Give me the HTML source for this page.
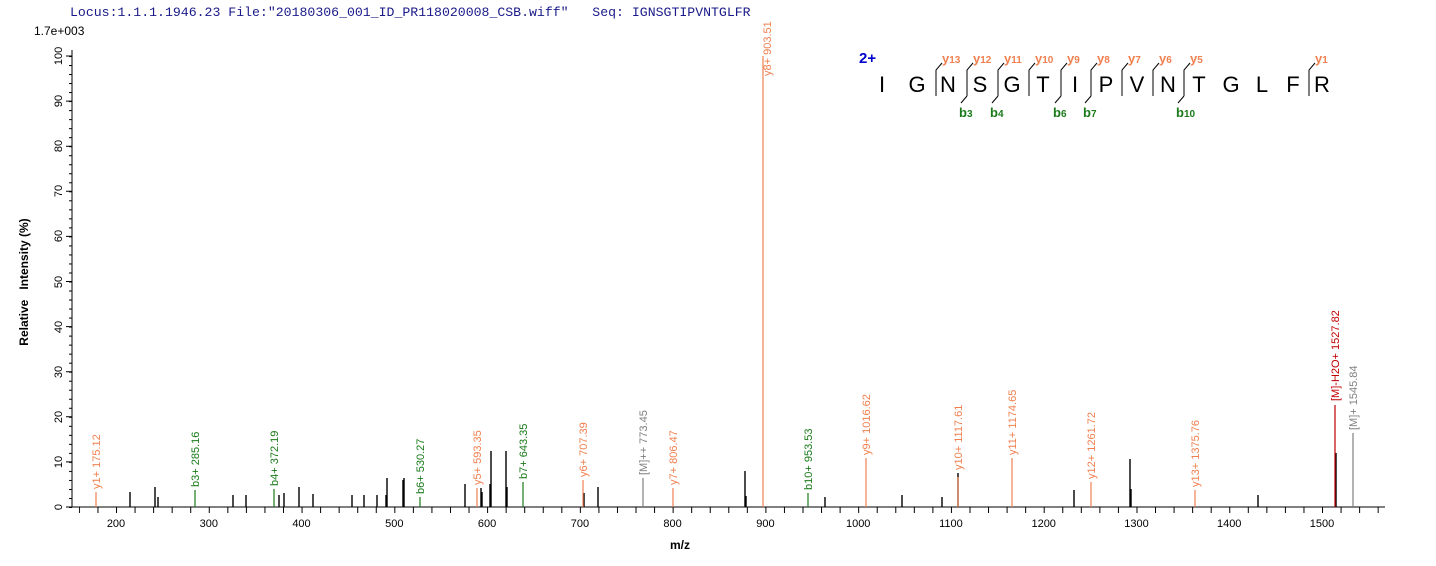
<!DOCTYPE html>
<html><head><meta charset="utf-8"><style>
body{margin:0;background:#fff;}
svg{display:block;font-family:"Liberation Sans",Arial,sans-serif;}
.o{stroke:#F08050;stroke-width:1.2}
.g{stroke:#1A7A1A;stroke-width:1.2}
.k{stroke:#000;stroke-width:1.4}
.gr{stroke:#808080;stroke-width:1.2}
.r{stroke:#C00000;stroke-width:1.2}
.lo{fill:#F08050;font-size:11px}
.lg{fill:#1A7A1A;font-size:11px}
.lgr{fill:#808080;font-size:11px}
.lr{fill:#C00000;font-size:11px}
</style></head><body>
<svg width="1436" height="566" viewBox="0 0 1436 566" xmlns="http://www.w3.org/2000/svg">
<defs>
<pattern id="xt" x="78.9" y="507" width="18.554" height="6" patternUnits="userSpaceOnUse"><line x1="0.5" y1="0" x2="0.5" y2="6" stroke="#000"/></pattern>
<pattern id="yt" x="66" y="56" width="6" height="9.02" patternUnits="userSpaceOnUse"><line x1="3" y1="0.5" x2="6" y2="0.5" stroke="#000"/></pattern>
</defs>
<text x="70" y="16" font-family="'Liberation Mono',monospace" font-size="13.2" fill="#1a1a8a" xml:space="preserve">Locus:1.1.1.1946.23 File:"20180306_001_ID_PR118020008_CSB.wiff"   Seq: IGNSGTIPVNTGLFR</text>
<text x="34" y="35" font-size="12">1.7e+003</text>
<line x1="72" y1="50" x2="72" y2="507" stroke="#000"/>
<line x1="72" y1="507" x2="1385" y2="507" stroke="#000"/>
<rect x="78.9" y="507" width="1300" height="6" fill="url(#xt)"/>
<rect x="66" y="56" width="6" height="452" fill="url(#yt)"/>
<path d="M66 507h6M66 461.9h6M66 416.8h6M66 371.7h6M66 326.6h6M66 281.5h6M66 236.4h6M66 191.3h6M66 146.2h6M66 101.1h6M66 56h6" stroke="#000"/>
<g font-size="11" text-anchor="middle">
<text transform="translate(62,507) rotate(-90)">0</text>
<text transform="translate(62,462) rotate(-90)">10</text>
<text transform="translate(62,417) rotate(-90)">20</text>
<text transform="translate(62,372) rotate(-90)">30</text>
<text transform="translate(62,327) rotate(-90)">40</text>
<text transform="translate(62,282) rotate(-90)">50</text>
<text transform="translate(62,236) rotate(-90)">60</text>
<text transform="translate(62,191) rotate(-90)">70</text>
<text transform="translate(62,146) rotate(-90)">80</text>
<text transform="translate(62,101) rotate(-90)">90</text>
<text transform="translate(62,56) rotate(-90)">100</text>
<text x="116" y="527">200</text><text x="208.8" y="527">300</text><text x="301.5" y="527">400</text><text x="394.3" y="527">500</text><text x="487.1" y="527">600</text><text x="579.9" y="527">700</text><text x="672.6" y="527">800</text><text x="765.4" y="527">900</text><text x="858.2" y="527">1000</text><text x="950.9" y="527">1100</text><text x="1043.7" y="527">1200</text><text x="1136.5" y="527">1300</text><text x="1229.2" y="527">1400</text><text x="1322" y="527">1500</text>
</g>
<text x="680" y="549" font-size="12" font-weight="bold" text-anchor="middle">m/z</text>
<text transform="translate(28,282) rotate(-90)" font-size="12" font-weight="bold" text-anchor="middle">Relative &#160; Intensity (%)</text>
<path class="k" d="M130 507V492M155 507V487M158 507V497M233 507V495M246 507V495M279 507V495M284 507V493M299 507V487M313 507V494M352 507V495M364 507V495M377 507V495M386 507V495M387 507V478M403 507V480M404 507V478M465 507V484M481 507V488M482 507V492M490 507V484M491 507V451M506 507V451M507 507V487M584 507V493M598 507V487M745 507V471M746 507V496M825 507V497M902 507V495M942 507V497M958 507V473M1074 507V490M1130 507V459M1131 507V489M1258 507V495M1336 507V453"/>
<path class="o" d="M96 507V492M477 507V488M583 507V480M673 507V488M763 507V56M866 507V458M958 507V477M1012 507V458M1091 507V482M1195 507V490"/>
<path class="g" d="M195 507V490M274 507V489M420 507V497M523 507V482M808 507V493"/>
<path class="gr" d="M643 507V478M1353 507V433"/>
<path class="r" d="M1335 507V405"/>
<g>
<text class="lo" transform="translate(100,489) rotate(-90)">y1+ 175.12</text>
<text class="lg" transform="translate(199,487) rotate(-90)">b3+ 285.16</text>
<text class="lg" transform="translate(278,486) rotate(-90)">b4+ 372.19</text>
<text class="lg" transform="translate(424,494) rotate(-90)">b6+ 530.27</text>
<text class="lo" transform="translate(481,485) rotate(-90)">y5+ 593.35</text>
<text class="lg" transform="translate(527,479) rotate(-90)">b7+ 643.35</text>
<text class="lo" transform="translate(587,477) rotate(-90)">y6+ 707.39</text>
<text class="lgr" transform="translate(647,475) rotate(-90)">[M]++ 773.45</text>
<text class="lo" transform="translate(677,485) rotate(-90)">y7+ 806.47</text>
<text class="lo" transform="translate(771,76) rotate(-90)">y8+ 903.51</text>
<text class="lg" transform="translate(812,490) rotate(-90)">b10+ 953.53</text>
<text class="lo" transform="translate(870,455) rotate(-90)">y9+ 1016.62</text>
<text class="lo" transform="translate(962,470) rotate(-90)">y10+ 1117.61</text>
<text class="lo" transform="translate(1016,455) rotate(-90)">y11+ 1174.65</text>
<text class="lo" transform="translate(1095,479) rotate(-90)">y12+ 1261.72</text>
<text class="lo" transform="translate(1199,487) rotate(-90)">y13+ 1375.76</text>
<text class="lr" transform="translate(1339,401) rotate(-90)">[M]-H2O+ 1527.82</text>
<text class="lgr" transform="translate(1357,430) rotate(-90)">[M]+ 1545.84</text>
</g>
<text x="859" y="63" font-size="15" font-weight="bold" fill="#0000CC">2+</text>
<g font-size="22" text-anchor="middle">
<text x="882" y="92">I</text><text x="917" y="92">G</text><text x="948" y="92">N</text><text x="980" y="92">S</text><text x="1012" y="92">G</text><text x="1043" y="92">T</text><text x="1075" y="92">I</text><text x="1106" y="92">P</text><text x="1137" y="92">V</text><text x="1168" y="92">N</text><text x="1199" y="92">T</text><text x="1231" y="92">G</text><text x="1262" y="92">L</text><text x="1293" y="92">F</text><text x="1322" y="92">R</text>
</g>
<path stroke="#000" fill="none" d="M936 96V70l6-7M967 96V70l6-7M998 96V70l6-7M1029 96V70l6-7M1061 96V70l6-7M1091 96V70l6-7M1122 96V70l6-7M1153 96V70l6-7M1184 96V70l6-7M1309 96V70l6-7
M967 96l-6 7M998 96l-6 7M1061 96l-6 7M1091 96l-6 7M1184 96l-6 7"/>
<g font-size="13" font-weight="bold" fill="#F08050">
<text x="942" y="63">y<tspan font-size="10">13</tspan></text>
<text x="973" y="63">y<tspan font-size="10">12</tspan></text>
<text x="1004" y="63">y<tspan font-size="10">11</tspan></text>
<text x="1035" y="63">y<tspan font-size="10">10</tspan></text>
<text x="1067" y="63">y<tspan font-size="10">9</tspan></text>
<text x="1097" y="63">y<tspan font-size="10">8</tspan></text>
<text x="1128" y="63">y<tspan font-size="10">7</tspan></text>
<text x="1159" y="63">y<tspan font-size="10">6</tspan></text>
<text x="1190" y="63">y<tspan font-size="10">5</tspan></text>
<text x="1315" y="63">y<tspan font-size="10">1</tspan></text>
</g>
<g font-size="13" font-weight="bold" fill="#1A7A1A">
<text x="959" y="117">b<tspan font-size="10">3</tspan></text>
<text x="990" y="117">b<tspan font-size="10">4</tspan></text>
<text x="1053" y="117">b<tspan font-size="10">6</tspan></text>
<text x="1083" y="117">b<tspan font-size="10">7</tspan></text>
<text x="1176" y="117">b<tspan font-size="10">10</tspan></text>
</g>
</svg>
</body></html>
